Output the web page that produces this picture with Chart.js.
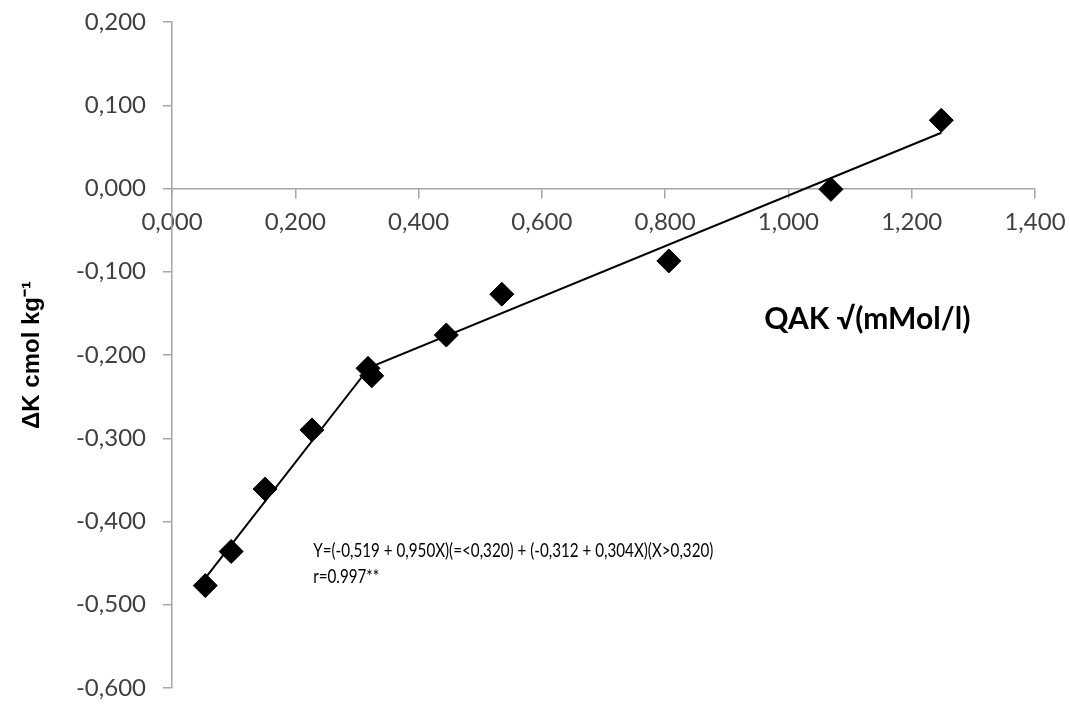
<!DOCTYPE html>
<html>
<head>
<meta charset="utf-8">
<script src="https://cdn.jsdelivr.net/npm/chart.js@4.4.1/dist/chart.umd.min.js"></script>
<style>
  html, body { margin: 0; padding: 0; background: #fff; }
  #wrap { width: 1070px; height: 704px; }
</style>
</head>
<body>
<div id="wrap"><canvas id="qakChart"></canvas></div>
<script>
// measured points (QAK vs delta K)
let qak = [0.054, 0.096, 0.151, 0.227, 0.318, 0.324, 0.445, 0.535, 0.806, 1.069, 1.248];
let deltaK = [-0.477, -0.436, -0.361, -0.290, -0.216, -0.225, -0.176, -0.127, -0.087, -0.001, 0.082];

// broken-line fit
let fitX = [0.054, 0.320, 1.248];
let fitY = [-0.468, -0.215, 0.067];

// axis ticks
let xTicks = [0, 0.2, 0.4, 0.6, 0.8, 1.0, 1.2, 1.4];
let yTicks = [-0.6, -0.5, -0.4, -0.3, -0.2, -0.1, 0, 0.1, 0.2];

let equation = "Y=(-0,519 + 0,950X)(=<0,320) + (-0,312 + 0,304X)(X>0,320)";
let rText = "r=0.997**";
let xTitle = "QAK \u221A(mMol/l)";
let yTitle = "\u0394K cmol kg\u207B\u00B9";

function fmt(v) {
    return Number(v).toFixed(3).replace(".", ",");
}

let points = qak.map((x, i) => ({ x: x, y: deltaK[i] }));
let fit = fitX.map((x, i) => ({ x: x, y: fitY[i] }));

// extra texts drawn inside the plot
let notes = {
    id: "notes",
    afterDraw(chart) {
        let c = chart.ctx;
        let xs = chart.scales.x, ys = chart.scales.y;
        let ex = xs.getPixelForValue(0.229);
        c.save();
        c.fillStyle = "#000";
        c.textBaseline = "middle";
        c.textAlign = "left";
        c.font = "19px Lato";
        // equation text is condensed in the original
        c.save();
        c.translate(ex, ys.getPixelForValue(-0.435));
        c.scale(0.8, 1);
        c.fillText(equation, 0, 0);
        c.restore();
        c.save();
        c.translate(ex, ys.getPixelForValue(-0.466));
        c.scale(0.8, 1);
        c.fillText(rText, 0, 0);
        c.restore();
        c.font = "bold 30px Lato";
        c.textAlign = "center";
        c.fillText(xTitle, xs.getPixelForValue(1.128), ys.getPixelForValue(-0.157));
        c.restore();
    }
};

let ctx = document.getElementById("qakChart").getContext("2d");

new Chart(ctx, {
    type: "scatter",
    data: {
        datasets: [{
            label: "fit",
            type: "line",
            data: fit,
            borderColor: "#000",
            borderWidth: 2,
            pointRadius: 0,
            fill: false,
            order: 2
        }, {
            label: "data",
            data: points,
            pointStyle: "rectRot",
            pointRadius: 12,
            pointBackgroundColor: "#000",
            pointBorderColor: "#000",
            order: 1
        }]
    },
    options: {
        responsive: true,
        maintainAspectRatio: false,
        animation: false,
        layout: { padding: { left: 0, top: 22, right: 35, bottom: 16 } },
        plugins: {
            legend: { display: false },
            tooltip: { enabled: false }
        },
        scales: {
            x: {
                type: "linear",
                position: { y: 0 },
                min: 0,
                max: 1.4,
                afterBuildTicks(s) { s.ticks = xTicks.map(v => ({ value: v })); },
                afterFit(s) { s.paddingLeft = 0; s.paddingRight = 0; },
                ticks: {
                    callback: v => fmt(v),
                    font: { family: "Lato", size: 24 },
                    color: "#404040",
                    padding: 10,
                    maxRotation: 0
                },
                grid: { drawOnChartArea: false, drawTicks: true, tickLength: 9, color: "#a6a6a6", lineWidth: 1.5 },
                border: { display: true, color: "#a6a6a6", width: 1.5 }
            },
            y: {
                type: "linear",
                min: -0.6,
                max: 0.2,
                afterBuildTicks(s) { s.ticks = yTicks.map(v => ({ value: v })); },
                afterFit(s) { s.width = 172; s.paddingTop = 0; s.paddingBottom = 0; },
                ticks: {
                    callback: v => fmt(v),
                    font: { family: "Lato", size: 24 },
                    color: "#404040",
                    padding: 17
                },
                grid: { drawOnChartArea: false, drawTicks: true, tickLength: 9, color: "#a6a6a6", lineWidth: 1.5 },
                border: { display: true, color: "#a6a6a6", width: 1.5 },
                title: {
                    display: true,
                    text: yTitle,
                    font: { family: "Liberation Sans", size: 24, weight: "bold" },
                    color: "#000",
                    padding: { top: 18, bottom: 0 }
                }
            }
        }
    },
    plugins: [notes]
});
</script>
</body>
</html>
